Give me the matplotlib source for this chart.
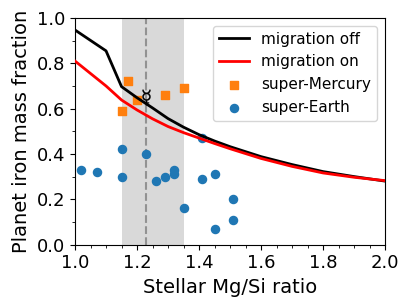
import matplotlib
matplotlib.use("Agg")
from matplotlib import pyplot as plt
from matplotlib.ticker import MultipleLocator

# model curves
off_x = [1.0, 1.1, 1.15, 1.2, 1.25, 1.3, 1.35, 1.4, 1.45, 1.5, 1.6, 1.7, 1.8, 1.9, 2.0]
off_y = [0.947, 0.855, 0.697, 0.648, 0.603, 0.556, 0.518, 0.485, 0.457, 0.432, 0.388, 0.353, 0.322, 0.30, 0.28]
on_x = [1.0, 1.05, 1.1, 1.15, 1.2, 1.25, 1.3, 1.35, 1.4, 1.45, 1.5, 1.6, 1.7, 1.8, 1.9, 2.0]
on_y = [0.81, 0.755, 0.70, 0.638, 0.594, 0.555, 0.521, 0.494, 0.47, 0.446, 0.423, 0.38, 0.345, 0.316, 0.297, 0.282]

# planets
merc_x = [1.15, 1.17, 1.20, 1.29, 1.35]
merc_y = [0.59, 0.72, 0.64, 0.66, 0.69]
earth_x = [1.02, 1.07, 1.15, 1.15, 1.23, 1.26, 1.29, 1.32, 1.32, 1.35, 1.41, 1.41, 1.45, 1.45, 1.51, 1.51]
earth_y = [0.33, 0.32, 0.42, 0.30, 0.40, 0.28, 0.30, 0.33, 0.31, 0.16, 0.29, 0.47, 0.31, 0.07, 0.20, 0.11]

# Mercury and solar Mg/Si
sun_mgsi = 1.23
sun_lo, sun_hi = 1.15, 1.35
mercury_fe = 0.65

fig = plt.figure(figsize=(4.11, 3.08), dpi=100)
ax = fig.add_axes([0.1825, 0.206, 0.7545, 0.7356])

ax.axvspan(sun_lo, sun_hi, color="#d9d9d9", lw=0, zorder=0)
ax.axvline(sun_mgsi, color="gray", ls="--", lw=1.5, alpha=0.8, zorder=1)

ax.plot(off_x, off_y, c="k", lw=2, label="migration off", zorder=3)
ax.plot(on_x, on_y, c="r", lw=2, label="migration on", zorder=3)
ax.scatter(merc_x, merc_y, c="tab:orange", marker="s", s=32, label="super-Mercury", zorder=2)
ax.scatter(earth_x, earth_y, c="tab:blue", marker="o", s=34, label="super-Earth", zorder=2)
ax.plot([sun_mgsi], [mercury_fe], marker="$\u263f$", ms=11, mew=0.2, c="k", ls="none", zorder=4)

ax.set_xlim(1.0, 2.0)
ax.set_ylim(0.0, 1.0)
ax.xaxis.set_major_locator(MultipleLocator(0.2))
ax.xaxis.set_minor_locator(MultipleLocator(0.05))
ax.yaxis.set_major_locator(MultipleLocator(0.2))
ax.yaxis.set_minor_locator(MultipleLocator(0.1))
ax.tick_params(labelsize=13)
ax.set_xlabel("Stellar Mg/Si ratio", fontsize=14)
ax.set_ylabel("Planet iron mass fraction", fontsize=14)
ax.legend(loc="upper right", fontsize=11, scatterpoints=1)

plt.savefig("out.png")
